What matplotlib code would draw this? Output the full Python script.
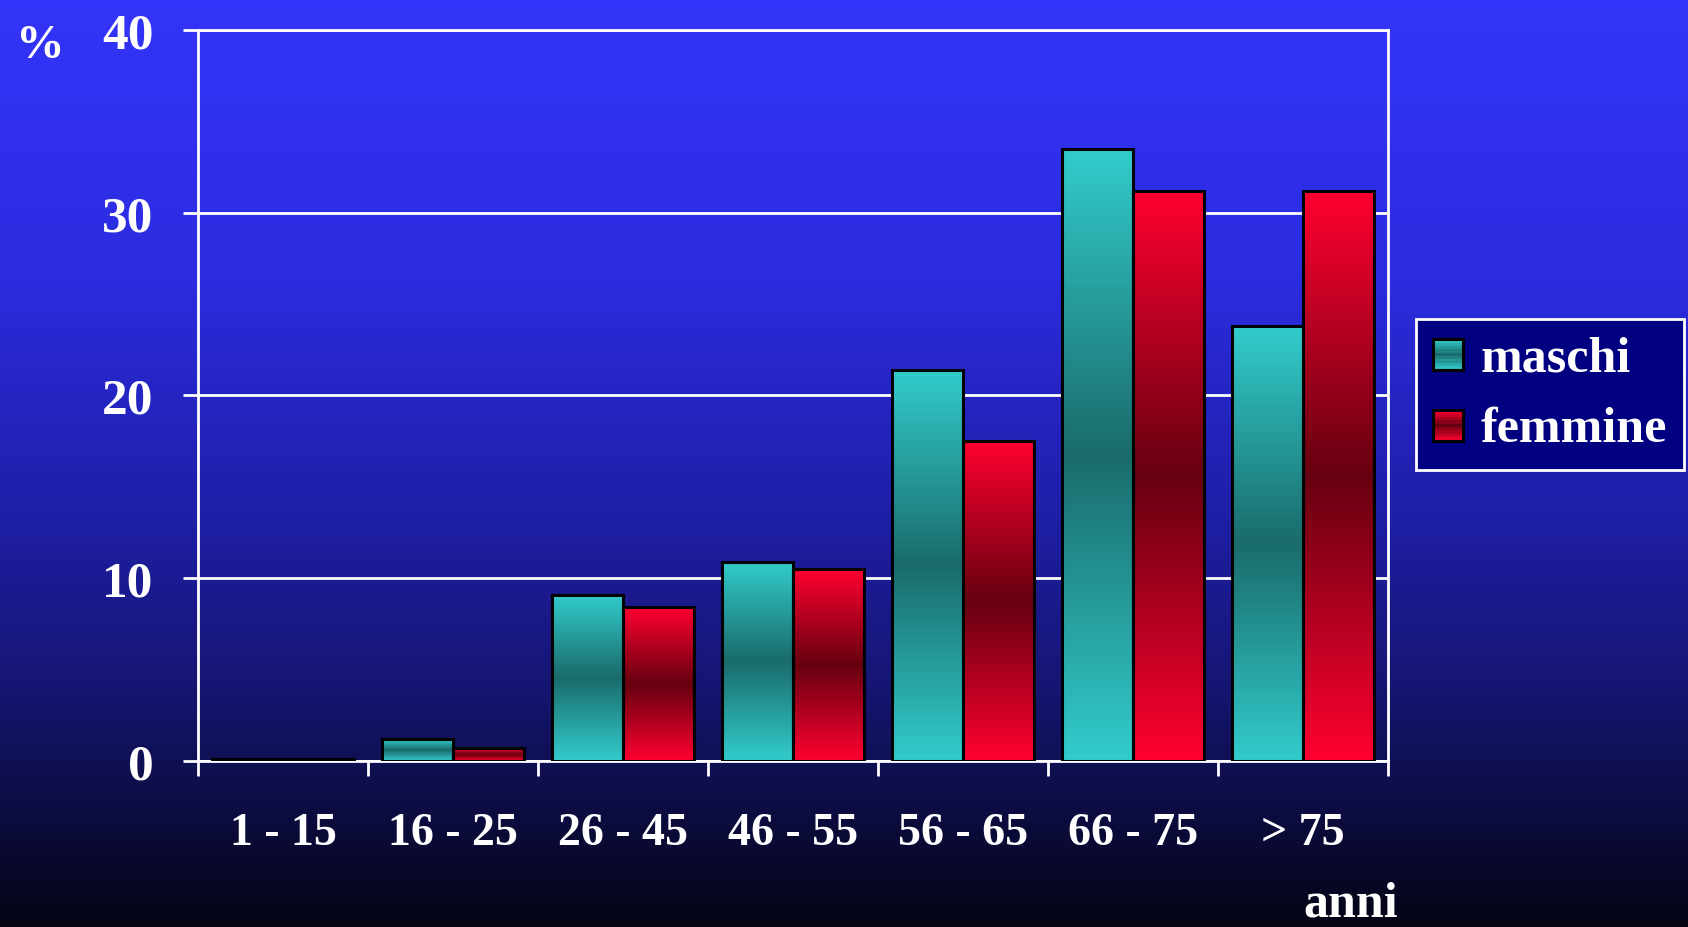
import numpy as np
import matplotlib
matplotlib.use("Agg")
import matplotlib.pyplot as plt
from matplotlib.colors import LinearSegmentedColormap
from matplotlib.patches import Rectangle
from matplotlib.legend_handler import HandlerBase

# dati
categorie = ["1 - 15", "16 - 25", "26 - 45", "46 - 55", "56 - 65", "66 - 75", "> 75"]
maschi = [0.1, 1.2, 9.1, 10.9, 21.4, 33.5, 23.8]
femmine = [0.1, 0.7, 8.4, 10.5, 17.5, 31.2, 31.2]
y_ticks = [0, 10, 20, 30, 40]

plt.rcParams['font.family'] = ['Liberation Serif', 'DejaVu Serif']
plt.rcParams['font.weight'] = 'bold'

# gradienti
cm_teal = LinearSegmentedColormap.from_list("teal", ["#33CCCC", "#1A6B6B", "#33CCCC"])
cm_red = LinearSegmentedColormap.from_list("red", ["#FF0030", "#660010", "#FF0030"])
cm_bg = LinearSegmentedColormap.from_list(
    "bg", [(0.0, "#3434FA"), (0.3, "#2C2CE0"), (0.55, "#1F1FA8"),
           (0.75, "#151570"), (0.88, "#0C0C40"), (1.0, "#040414")])

fig = plt.figure(figsize=(16.88, 9.28), dpi=100)

# sfondo
bg = fig.add_axes([0, 0, 1, 1], zorder=-10)
bg.imshow(np.linspace(0, 1, 256).reshape(-1, 1), cmap=cm_bg, aspect='auto',
          extent=(0, 1, 0, 1), origin='upper')
bg.axis('off')

ax = fig.add_axes([0.1173, 0.1789, 0.7050, 0.7877])
ax.patch.set_alpha(0)

x = np.arange(len(categorie))
w = 0.42
grad = np.linspace(0, 1, 256).reshape(-1, 1)


def gradient_bars(xpos, vals, cmap):
    bars = ax.bar(xpos, vals, w, facecolor='none', edgecolor='black', linewidth=2.2, zorder=3)
    for b in bars:
        h = b.get_height()
        if h <= 0.2:
            continue
        x0 = b.get_x()
        im = ax.imshow(grad, cmap=cmap, aspect='auto', origin='lower',
                       extent=(x0, x0 + b.get_width(), 0, h), zorder=2)
        im.set_clip_path(b)
    return bars


gradient_bars(x - w / 2, maschi, cm_teal)
gradient_bars(x + w / 2, femmine, cm_red)

ax.set_xlim(-0.5, len(categorie) - 0.5)
ax.set_ylim(0, 40)

ax.set_yticks(y_ticks)
ax.set_yticklabels([str(v) for v in y_ticks])
ax.yaxis.grid(True, color='white', linewidth=2)
ax.set_axisbelow(True)

ax.set_xticks(x)
ax.set_xticklabels(categorie)
ax.set_xticks(np.arange(len(categorie) + 1) - 0.5, minor=True)
ax.tick_params(axis='x', which='major', length=0, pad=37, labelsize=33, colors='white')
ax.tick_params(axis='x', which='minor', length=11, width=2, color='white')
ax.tick_params(axis='y', length=11, width=2, color='white', labelcolor='white',
               labelsize=37, pad=21)

for s in ax.spines.values():
    s.set_color('white')
    s.set_linewidth(2)


class GradientHandler(HandlerBase):
    def __init__(self, cmap):
        super().__init__()
        self.cmap = cmap

    def create_artists(self, legend, orig_handle, xdescent, ydescent, width, height, fontsize, trans):
        side = height * 0.95
        x0 = -xdescent + (width - side) / 2
        y0 = -ydescent + (height - side) / 2 - height * 0.05
        arts = []
        n = 9
        for i in range(n):
            c = self.cmap((i + 0.5) / n)
            r = Rectangle((x0, y0 + side * i / n), side, side / n + 0.3,
                          facecolor=c, edgecolor='none', transform=trans)
            arts.append(r)
        arts.append(Rectangle((x0, y0), side, side, facecolor='none',
                              edgecolor='black', linewidth=2.2, transform=trans))
        return arts


h1 = Rectangle((0, 0), 1, 1)
h2 = Rectangle((0, 0), 1, 1)
leg = fig.legend([h1, h2], ["maschi", "femmine"],
                 handler_map={h1: GradientHandler(cm_teal), h2: GradientHandler(cm_red)},
                 loc='center left', bbox_to_anchor=(1416 / 1688, 1 - 395 / 928),
                 fontsize=36, frameon=True, fancybox=False, framealpha=1,
                 facecolor='#000080', edgecolor='white', labelcolor='white',
                 handlelength=0.6, handleheight=0.6, handletextpad=0.35,
                 labelspacing=0.5, borderpad=0.34, borderaxespad=0)
leg.get_frame().set_linewidth(2)

fig.text(16 / 1688, 1 - 58 / 928, "%", color='white', fontsize=35, fontweight='bold')
fig.text(1303 / 1688, 1 - 917 / 928, "anni", color='white', fontsize=36,
         fontweight='bold', va='baseline')

fig.savefig("out.png", dpi=100)
